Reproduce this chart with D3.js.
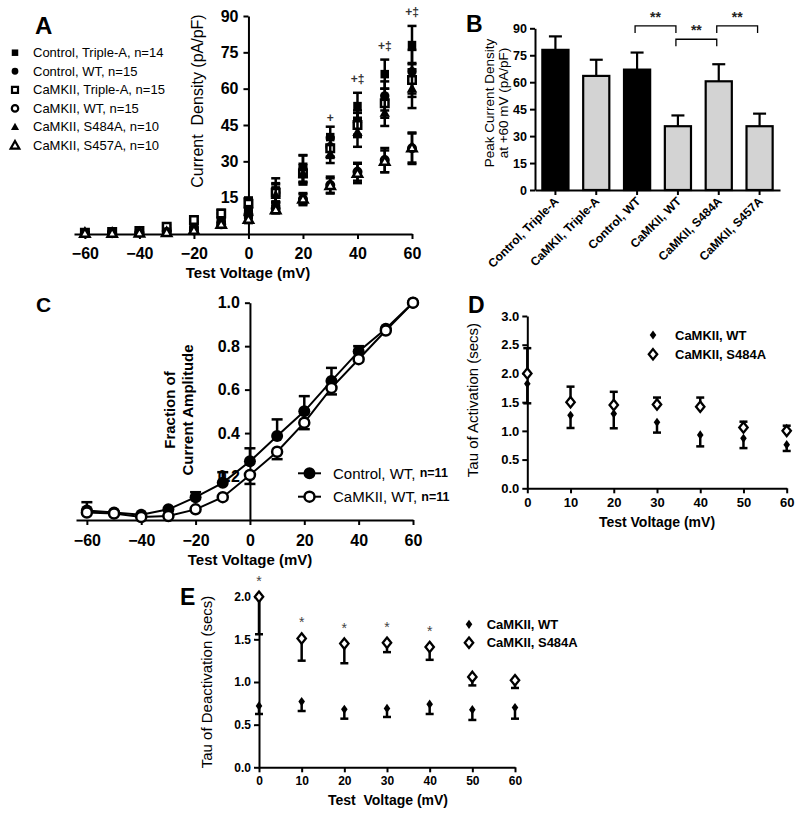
<!DOCTYPE html>
<html><head><meta charset="utf-8">
<script src="https://cdn.jsdelivr.net/npm/d3@7"></script>
<style>
body{margin:0;background:#fff}
svg{display:block}
</style></head><body>
<svg id="fig" width="800" height="818"></svg>
<script>
// ---------- DATA ----------
// Panel A: current density (pA/pF) vs test voltage (mV)
const voltsA = [-60,-50,-40,-30,-20,-10,0,10,20,30,40,50,60];
const ctrlTripleA    = [0.4,0.6,0.9,2.0,4.0,6.5,12.0,18.0,26.4,40.0,52.8,66.0,78.0];
const ctrlTripleAErr = [0.4,0.4,0.5,0.8,1.2,2.0,3.0,5.0,6.0,4.3,5.5,6.0,7.9];
const ctrlWT         = [0.3,0.5,0.8,1.5,2.5,5.0,11.0,17.0,27.0,36.0,46.0,57.0,67.0];
const ctrlWTErr      = [0.3,0.4,0.5,0.7,1.0,1.5,2.5,4.0,5.6,4.0,5.0,6.0,9.0];
const camTripleA     = [0.5,0.8,1.2,3.0,5.8,8.5,12.5,17.0,25.0,35.4,45.0,54.0,63.6];
const camTripleAErr  = [0.4,0.4,0.5,0.8,1.2,1.5,2.5,3.5,4.0,4.0,5.0,6.0,7.0];
const camWT          = [0.3,0.3,0.5,0.8,1.5,4.0,8.0,10.5,14.4,20.2,25.7,30.5,35.4];
const camWTErr       = [0.3,0.3,0.3,0.5,0.8,1.0,1.5,1.5,2.5,3.5,3.7,5.0,6.5];
const s484A          = [0.3,0.4,0.6,1.0,2.0,4.5,9.0,16.0,25.0,33.0,42.0,50.0,60.0];
const s484AErr       = [0.3,0.3,0.4,0.6,1.0,1.5,2.5,3.0,3.4,3.7,6.0,5.4,8.0];
const s457A          = [0.3,0.3,0.4,0.6,1.5,4.0,6.0,10.0,14.4,20.0,25.0,30.0,35.5];
const s457AErr       = [0.3,0.3,0.3,0.5,0.8,1.0,1.5,1.5,2.0,3.0,4.0,4.5,6.0];
const legendA = ["Control, Triple-A, n=14","Control, WT, n=15","CaMKII, Triple-A, n=15",
                 "CaMKII, WT, n=15","CaMKII, S484A, n=10","CaMKII, S457A, n=10"];
const sigAVolts  = [30,40,50,60];
const sigALabels = ["+","+\u2021","+\u2021","+\u2021"];
const xTicksA = [-60,-40,-20,0,20,40,60];
const yTicksA = [15,30,45,60,75,90];

// Panel B: peak current density at +60 mV
const catsB  = ["Control, Triple-A","CaMKII, Triple-A","Control, WT","CaMKII, WT","CaMKII, S484A","CaMKII, S457A"];
const peakB  = [78.0,63.5,67.0,35.5,60.5,35.5];
const peakBErr = [7.5,9.0,9.5,6.0,9.5,7.0];
const controlB = [true,false,true,false,false,false];
const bracketsB = [[2,3,"**"],[3,4,"**"],[4,5,"**"]];
const bracketLevelB = [91.3,83.9,91.3];
const yTicksB = [0,15,30,45,60,75,90];

// Panel C: normalized current amplitude
const voltsC = [-60,-50,-40,-30,-20,-10,0,10,20,30,40,50,60];
const fracCtrlWT    = [0.044,0.034,0.024,0.049,0.105,0.171,0.27,0.387,0.50,0.64,0.776,0.88,1.0];
const fracCtrlWTErr = [0.038,0.0,0.0,0.0,0.023,0.049,0.06,0.076,0.07,0.06,0.024,0.0,0.0];
const fracCamWT     = [0.034,0.030,0.014,0.018,0.049,0.105,0.207,0.314,0.448,0.608,0.74,0.872,1.0];
const fracCamWTErr  = [0.0,0.0,0.0,0.0,0.0,0.0,0.041,0.034,0.03,0.03,0.0,0.0,0.0];
const legendC = [["Control, WT, ","n=11"],["CaMKII, WT, ","n=11"]];
const xTicksC = [-60,-40,-20,0,20,40,60];
const yTicksC = [0.2,0.4,0.6,0.8,1.0];

// Panel D: tau of activation
const voltsD = [0,10,20,30,40,50,60];
const tauActWT       = [1.82,1.27,1.30,1.15,0.93,0.87,0.76];
const tauActWTErr    = [0.34,0.22,0.255,0.18,0.20,0.17,0.11];
const tauActS484A    = [2.0,1.5,1.45,1.46,1.42,1.06,1.0];
const tauActS484AErr = [0.44,0.27,0.23,0.12,0.16,0.10,0.09];
const legendDE = ["CaMKII, WT","CaMKII, S484A"];
const yTicksD = [0,0.5,1.0,1.5,2.0,2.5,3.0];

// Panel E: tau of deactivation
const voltsE = [0,10,20,30,40,50,60];
const tauDeWT       = [0.72,0.77,0.68,0.69,0.74,0.675,0.70];
const tauDeWTErr    = [0.095,0.11,0.11,0.10,0.115,0.12,0.13];
const tauDeS484A    = [2.0,1.51,1.45,1.46,1.41,1.06,1.02];
const tauDeS484AErr = [0.44,0.26,0.23,0.11,0.15,0.10,0.09];
const sigEVolts = [0,10,20,30,40];
const yTicksE = [0,0.5,1.0,1.5,2.0];

// ---------- HELPERS ----------
const FONT = "'Liberation Sans', Arial, Helvetica, sans-serif";
const svg = d3.select("#fig").attr("font-family", FONT);

function styleAxis(sel, fs){
  sel.attr("font-family", FONT);
  sel.select(".domain").attr("stroke","#000").attr("stroke-width",2);
  sel.selectAll(".tick line").attr("stroke","#000").attr("stroke-width",2);
  sel.selectAll(".tick text").attr("font-size",fs).attr("font-weight","bold").attr("fill","#000");
}
function text(g, x, y, s, o = {}){
  const t = g.append("text").attr("x",x).attr("y",y).text(s)
    .attr("font-size", o.fs || 14).attr("font-weight", o.fw || "normal")
    .attr("fill", o.fill || "#000").attr("text-anchor", o.anchor || "start");
  if (o.rot) t.attr("transform", `rotate(${o.rot},${x},${y})`);
  if (o.base) t.attr("dominant-baseline", o.base);
  if (o.pre) t.style("white-space","pre");
  return t;
}
const sqPath  = s => `M${-s/2},${-s/2}h${s}v${s}h${-s}Z`;
const circPath= r => d3.symbol(d3.symbolCircle, Math.PI*r*r)();
const triPath = s => `M0,${-s*0.6}L${s*0.58},${s*0.42}L${-s*0.58},${s*0.42}Z`;
const diaPath = (w,h) => `M0,${-h}L${w},0L0,${h}L${-w},0Z`;

function errBars(g, xs, ys, es, x, y, dir, cap, sw){
  xs.forEach((v,i)=>{
    if (!es[i]) return;
    const cx = x(v);
    const ends = [];
    if (dir === "both" || dir === "up")   ends.push(ys[i] + es[i]);
    if (dir === "both" || dir === "down") ends.push(ys[i] - es[i]);
    ends.forEach(e=>{
      g.append("line").attr("x1",cx).attr("x2",cx).attr("y1",y(ys[i])).attr("y2",y(e))
        .attr("stroke","#000").attr("stroke-width",sw);
      g.append("line").attr("x1",cx-cap/2).attr("x2",cx+cap/2).attr("y1",y(e)).attr("y2",y(e))
        .attr("stroke","#000").attr("stroke-width",sw);
    });
  });
}
function markers(g, xs, ys, x, y, m){
  g.selectAll(null).data(d3.zip(xs, ys)).join("path")
    .attr("d", m.d).attr("transform", d=>`translate(${x(d[0])},${y(d[1])})`)
    .attr("fill", m.fill).attr("stroke", m.stroke || "none").attr("stroke-width", m.sw || 0);
}

// ---------- PANEL A ----------
{
  const g = svg.append("g");
  const x = d3.scaleLinear().domain([-64,60]).range([74,412]);
  const y = d3.scaleLinear().domain([0,90]).range([234,16]);
  g.append("g").attr("transform",`translate(0,${y(0)})`)
    .call(d3.axisBottom(x).tickValues(xTicksA).tickSize(5).tickSizeOuter(0).tickPadding(9))
    .call(styleAxis,16);
  g.append("g").attr("transform",`translate(${x(0)},0)`)
    .call(d3.axisLeft(y).tickValues(yTicksA).tickSize(5).tickSizeOuter(0).tickPadding(5))
    .call(styleAxis,16);
  text(g, 197+6, 101, "Current  Density (pA/pF)", {fs:16, anchor:"middle", rot:-90, pre:true});
  text(g, 248, 278, "Test Voltage (mV)", {fs:15, fw:"bold", anchor:"middle"});
  text(g, 35, 34, "A", {fs:24, fw:"bold"});

  const series = [
    [ctrlTripleA, ctrlTripleAErr, {d:sqPath(8.5), fill:"#000"}, {d:sqPath(6.5), fill:"#000"}],
    [ctrlWT, ctrlWTErr, {d:circPath(4.7), fill:"#000"}, {d:circPath(3.4), fill:"#000"}],
    [camTripleA, camTripleAErr, {d:sqPath(7.5), fill:"#fff", stroke:"#000", sw:2.5}, {d:sqPath(6), fill:"#fff", stroke:"#000", sw:2.2}],
    [camWT, camWTErr, {d:circPath(3.8), fill:"#fff", stroke:"#000", sw:2.5}, {d:circPath(3.2), fill:"#fff", stroke:"#000", sw:2.2}],
    [s484A, s484AErr, {d:triPath(9), fill:"#000"}, {d:triPath(7), fill:"#000"}],
    [s457A, s457AErr, {d:triPath(8), fill:"#fff", stroke:"#000", sw:2.5}, {d:triPath(7.5), fill:"#fff", stroke:"#000", sw:2.2}]
  ];
  series.forEach(([vals, errs, m])=>{
    const sg = g.append("g");
    errBars(sg, voltsA, vals, errs, x, y, "both", 9, 2.5);
    markers(sg, voltsA, vals, x, y, m);
  });
  // significance
  sigAVolts.forEach((v,i)=>{
    const idx = voltsA.indexOf(v);
    const top = y(ctrlTripleA[idx] + ctrlTripleAErr[idx]);
    text(g, x(v), top - (i===0 ? 5 : 10), sigALabels[i], {fs:12, fw:"bold", fill:"#333", anchor:"middle"});
  });
  // legend
  const rowY = d3.scaleLinear().domain([0,5]).range([52.7,145.5]);
  legendA.forEach((lab,i)=>{
    const m = series[i][3];
    g.append("path").attr("d",m.d).attr("transform",`translate(15,${rowY(i)})`)
      .attr("fill",m.fill).attr("stroke",m.stroke||"none").attr("stroke-width",m.sw||0);
    text(g, 33, rowY(i), lab, {fs:13, base:"central"});
  });
}

// ---------- PANEL B ----------
{
  const g = svg.append("g");
  const x = d3.scaleBand().domain(catsB).range([535,780]).paddingInner(0.36).paddingOuter(0.18);
  const y = d3.scaleLinear().domain([0,90]).range([190,28.3]);
  g.selectAll(null).data(catsB).join("rect")
    .attr("x", d=>x(d)).attr("width", x.bandwidth())
    .attr("y", (d,i)=>y(peakB[i])).attr("height",(d,i)=>y(0)-y(peakB[i]))
    .attr("fill",(d,i)=>controlB[i] ? "#000" : "#d3d3d3")
    .attr("stroke","#000").attr("stroke-width",2.2);
  catsB.forEach((c,i)=>{
    const cx = x(c) + x.bandwidth()/2;
    g.append("line").attr("x1",cx).attr("x2",cx).attr("y1",y(peakB[i])).attr("y2",y(peakB[i]+peakBErr[i]))
      .attr("stroke","#000").attr("stroke-width",2.2);
    g.append("line").attr("x1",cx-6.5).attr("x2",cx+6.5).attr("y1",y(peakB[i]+peakBErr[i])).attr("y2",y(peakB[i]+peakBErr[i]))
      .attr("stroke","#000").attr("stroke-width",2.2);
  });
  g.append("g").attr("transform",`translate(0,${y(0)})`)
    .call(d3.axisBottom(x).tickSize(5).tickSizeOuter(0).tickFormat(""))
    .call(styleAxis,12);
  g.append("g").attr("transform",`translate(535,0)`)
    .call(d3.axisLeft(y).tickValues(yTicksB).tickSize(5).tickSizeOuter(0).tickPadding(3))
    .call(styleAxis,12.5);
  catsB.forEach(c=>{
    const cx = x(c) + x.bandwidth()/2 + 4;
    text(g, cx, 202, c, {fs:12, fw:"bold", anchor:"end", rot:-45});
  });
  // brackets
  bracketsB.forEach(([a,b,lab],i)=>{
    const xa = x(catsB[a]) + x.bandwidth()/2 - 2, xb = x(catsB[b]) + x.bandwidth()/2 - 2;
    const yl = y(bracketLevelB[i]);
    g.append("path").attr("d",`M${xa},${yl+7}V${yl}H${xb}V${yl+7}`)
      .attr("fill","none").attr("stroke","#000").attr("stroke-width",1.3);
    text(g, (xa+xb)/2, yl-4, lab, {fs:14, fw:"bold", fill:"#222", anchor:"middle"});
  });
  text(g, 494, 103, "Peak Current Density", {fs:13.5, anchor:"middle", rot:-90});
  text(g, 507.5, 103, "at +60 mV (pA/pF)", {fs:13.5, anchor:"middle", rot:-90});
  text(g, 466, 32, "B", {fs:23, fw:"bold"});
}

// ---------- PANEL C ----------
{
  const g = svg.append("g");
  const x = d3.scaleLinear().domain([-64,60]).range([76,413]);
  const y = d3.scaleLinear().domain([0,1]).range([520,302.7]);
  g.append("g").attr("transform",`translate(0,${y(0)})`)
    .call(d3.axisBottom(x).tickValues(xTicksC).tickSize(5).tickSizeOuter(0).tickPadding(10))
    .call(styleAxis,16);
  g.append("g").attr("transform",`translate(${x(0)},0)`)
    .call(d3.axisLeft(y).tickValues(yTicksC).tickFormat(d3.format(".1f")).tickSize(5).tickSizeOuter(0).tickPadding(5))
    .call(styleAxis,16);
  text(g, 175, 410, "Fraction of", {fs:15, fw:"bold", anchor:"middle", rot:-90});
  text(g, 193, 410, "Current Amplitude", {fs:15, fw:"bold", anchor:"middle", rot:-90});
  text(g, 250, 565, "Test Voltage (mV)", {fs:15, fw:"bold", anchor:"middle"});
  text(g, 36, 312, "C", {fs:21, fw:"bold"});

  const line = d3.line().x(d=>x(d[0])).y(d=>y(d[1]));
  const sc = [
    [fracCtrlWT, fracCtrlWTErr, "up", {d:circPath(6), fill:"#000"}],
    [fracCamWT, fracCamWTErr, "down", {d:circPath(5), fill:"#fff", stroke:"#000", sw:2.5}]
  ];
  sc.forEach(([vals, errs, dir, m])=>{
    const sg = g.append("g");
    sg.append("path").datum(d3.zip(voltsC, vals)).attr("d", line)
      .attr("fill","none").attr("stroke","#000").attr("stroke-width",2);
    errBars(sg, voltsC, vals, errs, x, y, dir, 11, 2.5);
    markers(sg, voltsC, vals, x, y, m);
  });
  legendC.forEach(([a,b],i)=>{
    const ly = 473.3 + i*23.4;
    g.append("line").attr("x1",298).attr("x2",321).attr("y1",ly).attr("y2",ly).attr("stroke","#000").attr("stroke-width",2);
    const m = sc[i][3];
    g.append("path").attr("d",m.d).attr("transform",`translate(309.5,${ly})`)
      .attr("fill",m.fill).attr("stroke",m.stroke||"none").attr("stroke-width",m.sw||0);
    const t = text(g, 333, ly, a, {fs:15, base:"central"}).style("white-space","pre");
    t.append("tspan").text(b).attr("font-weight","bold").attr("font-size",12.5);
  });
}

// ---------- PANEL D ----------
{
  const g = svg.append("g");
  const x = d3.scaleLinear().domain([0,60]).range([527.3,786.7]);
  const y = d3.scaleLinear().domain([0,3]).range([488.3,316]);
  g.append("g").attr("transform",`translate(0,${y(0)})`)
    .call(d3.axisBottom(x).tickValues(voltsD).tickSize(5).tickSizeOuter(0).tickPadding(4))
    .call(styleAxis,13);
  g.append("g").attr("transform",`translate(${x(0)},0)`)
    .call(d3.axisLeft(y).tickValues(yTicksD).tickFormat(d3.format(".1f")).tickSize(5).tickSizeOuter(0).tickPadding(3))
    .call(styleAxis,13);
  const wt = {d:diaPath(3.3,4.6), fill:"#000"};
  const mu = {d:diaPath(4.2,5.2), fill:"#fff", stroke:"#000", sw:2.3};
  const g1 = g.append("g");
  errBars(g1, voltsD, tauActWT, tauActWTErr, x, y, "down", 8, 2.5);
  markers(g1, voltsD, tauActWT, x, y, wt);
  const g2 = g.append("g");
  errBars(g2, voltsD, tauActS484A, tauActS484AErr, x, y, "up", 8, 2.5);
  markers(g2, voltsD, tauActS484A, x, y, mu);
  [wt, mu].forEach((m,i)=>{
    const ly = 335 + i*19.3;
    g.append("path").attr("d",m.d).attr("transform",`translate(653,${ly})`)
      .attr("fill",m.fill).attr("stroke",m.stroke||"none").attr("stroke-width",m.sw||0);
    text(g, 675, ly, legendDE[i], {fs:13, fw:"bold", base:"central"});
  });
  text(g, 478, 400, "Tau of Activation (secs)", {fs:15, anchor:"middle", rot:-90});
  text(g, 657, 527, "Test Voltage (mV)", {fs:14, fw:"bold", anchor:"middle"});
  text(g, 468, 313, "D", {fs:23, fw:"bold"});
}

// ---------- PANEL E ----------
{
  const g = svg.append("g");
  const x = d3.scaleLinear().domain([0,60]).range([259,515]);
  const y = d3.scaleLinear().domain([0,2]).range([767.3,596.7]);
  g.append("g").attr("transform",`translate(0,${y(0)})`)
    .call(d3.axisBottom(x).tickValues(voltsE).tickSize(5).tickSizeOuter(0).tickPadding(4))
    .call(styleAxis,12);
  g.append("g").attr("transform",`translate(${x(0)},0)`)
    .call(d3.axisLeft(y).tickValues(yTicksE).tickFormat(d3.format(".1f")).tickSize(5).tickSizeOuter(0).tickPadding(3))
    .call(styleAxis,12);
  const wt = {d:diaPath(3.3,4.6), fill:"#000"};
  const mu = {d:diaPath(4.2,5.2), fill:"#fff", stroke:"#000", sw:2.3};
  const g1 = g.append("g");
  errBars(g1, voltsE, tauDeWT, tauDeWTErr, x, y, "down", 8, 2.5);
  markers(g1, voltsE, tauDeWT, x, y, wt);
  const g2 = g.append("g");
  errBars(g2, voltsE, tauDeS484A, tauDeS484AErr, x, y, "down", 8, 2.5);
  markers(g2, voltsE, tauDeS484A, x, y, mu);
  sigEVolts.forEach(v=>{
    const i = voltsE.indexOf(v);
    text(g, x(v), y(tauDeS484A[i]) - 11, "*", {fs:14, fill:"#444", anchor:"middle"});
  });
  [wt, mu].forEach((m,i)=>{
    const ly = 624.3 + i*18.4;
    g.append("path").attr("d",m.d).attr("transform",`translate(469,${ly})`)
      .attr("fill",m.fill).attr("stroke",m.stroke||"none").attr("stroke-width",m.sw||0);
    text(g, 486.7, ly, legendDE[i], {fs:13, fw:"bold", base:"central"});
  });
  text(g, 212, 682, "Tau of Deactivation (secs)", {fs:15, anchor:"middle", rot:-90});
  text(g, 388, 805, "Test  Voltage (mV)", {fs:14, fw:"bold", anchor:"middle", pre:true});
  text(g, 180, 605, "E", {fs:23, fw:"bold"});
}
</script>
</body></html>
